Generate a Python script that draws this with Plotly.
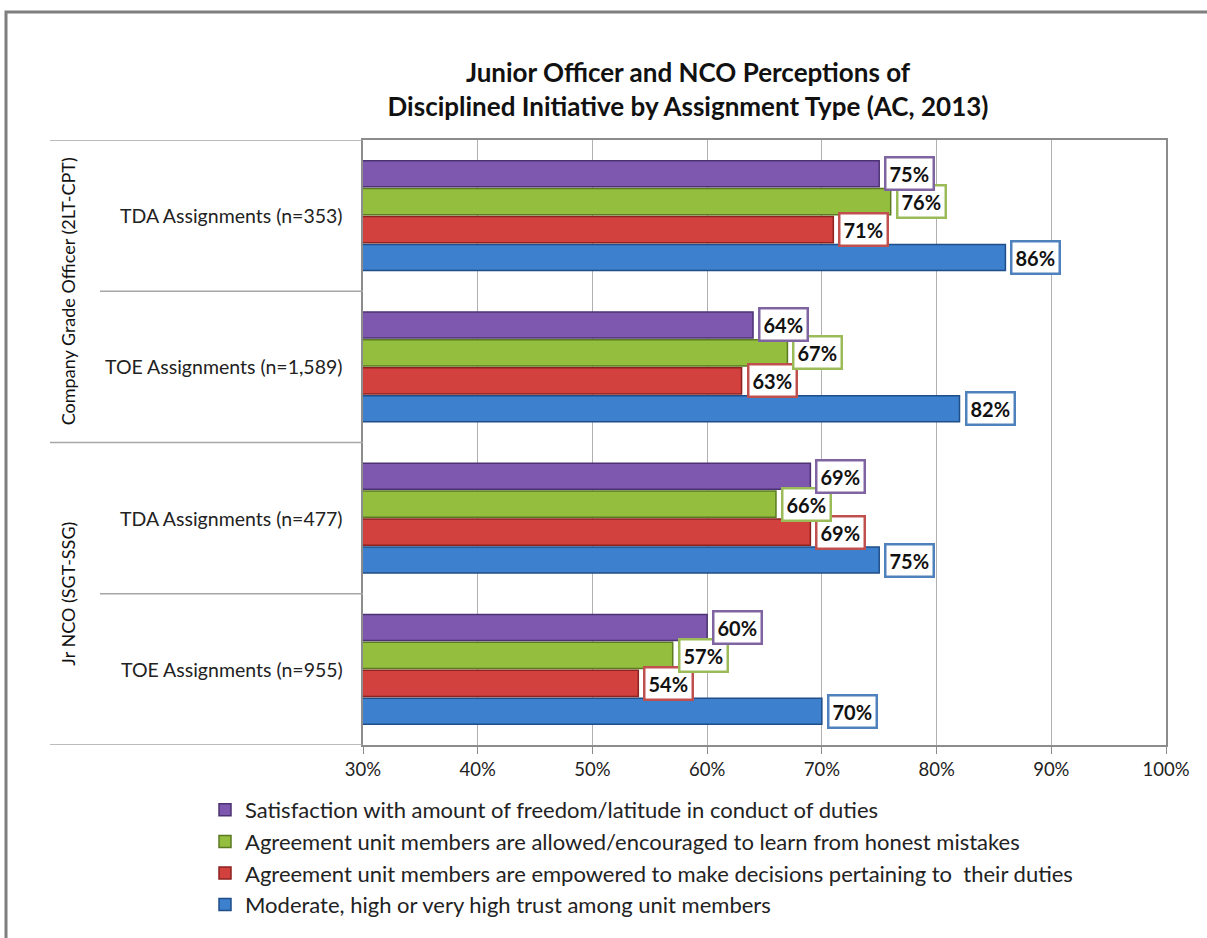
import plotly.graph_objects as go

# ---- data (top-to-bottom order as in the chart) ----
assignments = ["TDA Assignments (n=353)", "TOE Assignments (n=1,589)",
               "TDA Assignments (n=477)", "TOE Assignments (n=955)"]
groups = ["Company Grade Officer (2LT-CPT)", "Jr NCO (SGT-SSG)"]
series_names = [
    "Satisfaction with amount of freedom/latitude in conduct of duties",
    "Agreement unit members are allowed/encouraged to learn from honest mistakes",
    "Agreement unit members are empowered to make decisions pertaining to  their duties",
    "Moderate, high or very high trust among unit members",
]
satisfaction = [75, 64, 69, 60]
learn_mistakes = [76, 67, 66, 57]
empowered = [71, 63, 69, 54]
trust = [86, 82, 75, 70]
x_ticks = [30, 40, 50, 60, 70, 80, 90, 100]

fills = ["#7D58AE", "#93BE3E", "#D2413D", "#3D80CE"]
edges = ["#4C3273", "#5C7A22", "#8C2321", "#1F4E88"]
box_edges = ["#8064A2", "#9BBB59", "#C0504D", "#4F81BD"]

FONT = "Lato"
W, H = 1207, 938
L, R, T, B = 363, 41, 140, 193
PW, PH = W - L - R, H - T - B


def px(x):
    return (x - L) / PW


def py(y):
    return (H - B - y) / PH


# bottom-to-top for the category axis
cats = assignments[::-1]
series_vals = [satisfaction, learn_mistakes, empowered, trust]

fig = go.Figure()
# add traces bottom bar first (trust) so it sits lowest in each group
order = [3, 2, 1, 0]
for i in order:
    vals = series_vals[i][::-1]
    fig.add_trace(go.Bar(
        y=cats, x=vals, base=0, orientation="h", name=series_names[i],
        marker=dict(color=fills[i], line=dict(color=edges[i], width=1.5)),
        hoverinfo="x+name",
    ))

BARGAP, GROUPGAP = 0.26, 0.07
slot = (1 - BARGAP) / len(order)
annotations = []
for k, i in enumerate(order):
    off = -(1 - BARGAP) / 2 + slot * (k + 0.5)
    vals = series_vals[i][::-1]
    for ci, v in enumerate(vals):
        annotations.append(dict(
            x=v, y=ci + off, xref="x", yref="y", text=f"<b>{v}%</b>",
            showarrow=False, xanchor="left", yanchor="middle", xshift=5,
            font=dict(family=FONT, size=20, color="#111111"),
            bgcolor="white", bordercolor=box_edges[i], borderwidth=2.5, borderpad=3,
        ))

# category labels
for ci, c in enumerate(cats):
    annotations.append(dict(
        x=px(345), y=ci, xref="paper", yref="y", text=c, showarrow=False,
        xanchor="right", yanchor="middle",
        font=dict(family=FONT, size=19.5, color="#222222"),
    ))
# group labels (rotated)
for gi, g in enumerate(groups):
    annotations.append(dict(
        x=px(68), y=2.5 - 2 * gi, xref="paper", yref="y", text=g, showarrow=False,
        textangle=-90, xanchor="center", yanchor="middle",
        font=dict(family=FONT, size=18, color="#111111"),
    ))

shapes = []
sep_col = "#A6A6A6"
for yv, x0 in [(3.5, 50), (2.5, 100), (1.5, 50), (0.5, 100), (-0.5, 50)]:
    shapes.append(dict(type="line", xref="paper", yref="y", x0=px(x0), x1=0,
                       y0=yv, y1=yv, line=dict(color=sep_col, width=1.5)))
# outer frame
shapes.append(dict(type="rect", xref="paper", yref="paper",
                   x0=px(6), x1=px(1230), y0=py(12), y1=py(960),
                   line=dict(color="#7F7F7F", width=3), fillcolor="rgba(0,0,0,0)",
                   layer="below"))

fig.update_layout(
    width=W, height=H,
    margin=dict(l=L, r=R, t=T, b=B),
    paper_bgcolor="white", plot_bgcolor="white",
    barmode="group", bargap=BARGAP, bargroupgap=GROUPGAP,
    title=dict(
        text="<b>Junior Officer and NCO Perceptions of<br>Disciplined Initiative by Assignment Type (AC, 2013)</b>",
        x=688 / W, xanchor="center", xref="container",
        y=1 - 82 / H, yanchor="middle", yref="container",
        font=dict(family=FONT, size=26, color="#111111"),
    ),
    xaxis=dict(
        range=[30, 100], tickvals=x_ticks, ticktext=[f"{t}%" for t in x_ticks],
        showgrid=True, gridcolor="#B0B0B0", gridwidth=1,
        showline=True, linecolor="#8C8C8C", linewidth=1.5, mirror=True,
        ticks="outside", ticklen=7, tickcolor="#8C8C8C",
        tickfont=dict(family=FONT, size=18.5, color="#222222"),
        zeroline=False, fixedrange=True,
    ),
    yaxis=dict(
        type="category", categoryorder="array", categoryarray=cats,
        range=[-0.5, 3.5], showticklabels=False, showgrid=False,
        showline=True, linecolor="#8C8C8C", linewidth=1.5, mirror=True,
        ticks="", fixedrange=True,
    ),
    legend=dict(
        traceorder="reversed", orientation="v",
        x=px(205), xanchor="left", y=py(789), yanchor="top",
        font=dict(family=FONT, size=22, color="#222222"),
        itemwidth=30, tracegroupgap=0, bgcolor="rgba(0,0,0,0)",
    ),
    annotations=annotations, shapes=shapes,
)

fig.write_html(
    "out.html",
    config={"displayModeBar": False},
    post_script="document.body.style.margin='0';document.body.style.overflow='hidden';",
)
